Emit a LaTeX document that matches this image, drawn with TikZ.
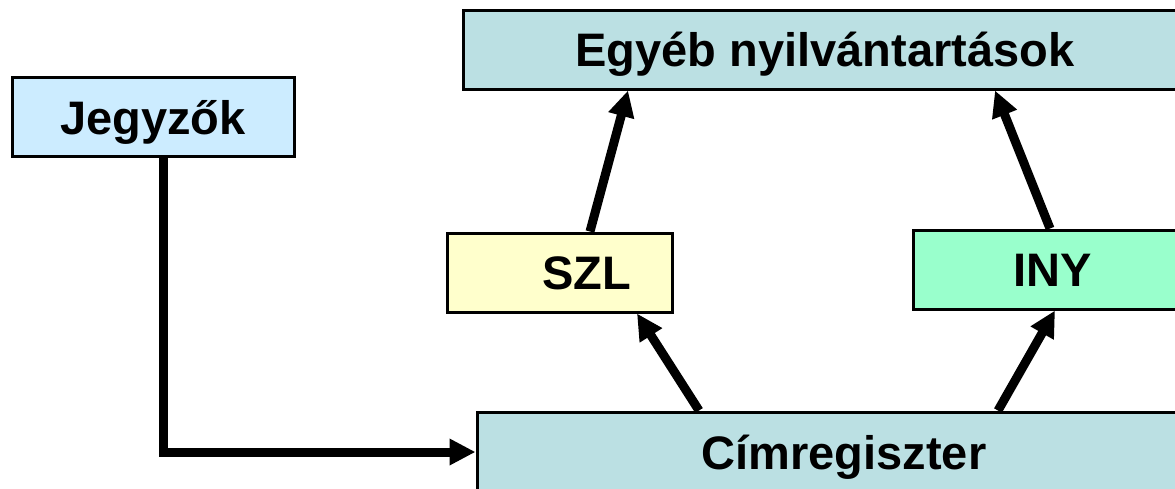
\documentclass[tikz,border=0pt]{standalone}
\usepackage{fontspec}
\setmainfont{Liberation Sans}
\usepackage{xcolor}
\usetikzlibrary{arrows.meta}
\usetikzlibrary{calc}

\definecolor{regblue}{HTML}{BBE0E3}
\definecolor{jegyblue}{HTML}{CCECFF}
\definecolor{szlyellow}{HTML}{FFFFCC}
\definecolor{inygreen}{HTML}{99FFCC}

\tikzset{
  box/.style={draw=black, line width=3pt, inner sep=0pt, minimum height=79pt,
    text height=34pt, text depth=0pt,
    font=\fontsize{47}{56}\selectfont\bfseries},
  link/.style={line width=9pt, -{Triangle[length=26pt,width=25pt]}}
}

\begin{document}
\begin{tikzpicture}[x=1pt, y=-1pt]
			\useasboundingbox (0,0) rectangle (1175,488);
			
			% boxes
			\node[box, fill=regblue, minimum width=724pt] (egyeb) at (825,49.5) {Egyéb nyilvántartások};
			\node[box, fill=jegyblue, minimum width=282pt] (jegyzok) at (153,117) {Jegyzők};
			\node[box, fill=szlyellow, minimum width=225pt] (szl) at (559.5,272.5) {\hspace*{54pt}SZL};
			\node[box, fill=inygreen, minimum width=280pt] (iny) at (1053,269.5) {INY};
			\node[box, fill=regblue, minimum width=734pt, minimum height=80pt] (cim) at (844,452) {Címregiszter};
			
			% connectors
			\draw[link] ([xshift=10pt]jegyzok.south) |- (cim.west);
			\draw[link] ([xshift=-145pt]cim.north) -- ([xshift=77.5pt]szl.south);
			\draw[link] ([xshift=154pt]cim.north) -- ([xshift=2pt]iny.south);
			\draw[link] ([xshift=30.5pt]szl.north) -- ([xshift=-197pt]egyeb.south);
			\draw[link] ([xshift=-3pt]iny.north) -- ([xshift=170pt]egyeb.south);
		\end{tikzpicture}
\end{document}
